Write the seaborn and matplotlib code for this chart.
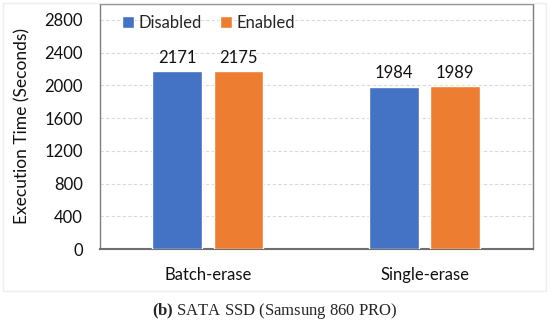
import matplotlib
matplotlib.use("Agg")
import matplotlib.pyplot as plt
import seaborn as sns
import pandas as pd
from matplotlib.patches import Rectangle

categories = ["Batch-erase", "Single-erase"]
series_names = ["Disabled", "Enabled"]
disabled = [2171, 1984]
enabled = [2175, 1989]
yticks = [0, 400, 800, 1200, 1600, 2000, 2400, 2800]
colors = ["#4472C4", "#ED7D31"]

df = pd.DataFrame({
    "Category": categories * 2,
    "Mode": [series_names[0]] * 2 + [series_names[1]] * 2,
    "Time": disabled + enabled,
})

sns.set_style("white")
plt.rcParams["font.family"] = ["Lato", "DejaVu Sans"]
plt.rcParams["mathtext.fontset"] = "custom"
plt.rcParams["mathtext.bf"] = "Liberation Serif:bold"
plt.rcParams["mathtext.rm"] = "Liberation Serif"

fig = plt.figure(figsize=(5.5, 3.23), dpi=100)
ax = fig.add_axes([0.181, 0.229, 0.788, 0.760])

# faint outer frame
fig.patches.append(Rectangle((3 / 550, 1 - 291 / 323), 543 / 550, 288 / 323,
                             transform=fig.transFigure, fill=False,
                             edgecolor="#eeeeee", linewidth=1.0, zorder=0))

sns.barplot(data=df, x="Category", y="Time", hue="Mode", palette=colors,
            width=0.567, gap=0.19, ax=ax, saturation=1, zorder=3)

for cont in ax.containers:
    ax.bar_label(cont, fmt="%d", padding=4, fontsize=12, color="#111111")

ax.set_ylim(0, 3000)
ax.set_xlim(-0.5, 1.5)
ax.set_yticks(yticks)
ax.set_yticklabels([str(t) for t in yticks])
ax.tick_params(axis="y", length=0, pad=12, labelsize=12, labelcolor="#111111")
ax.tick_params(axis="x", length=0, pad=13, labelsize=12, labelcolor="#111111")
ax.set_xlabel("")
ax.set_ylabel("Execution Time (Seconds)", fontsize=12.5, color="#111111")
ax.yaxis.set_label_coords(-0.16, 0.5)

ax.grid(axis="y", color="#d9d9d9", linestyle=(0, (3, 2)), linewidth=0.8, zorder=0)
ax.set_axisbelow(True)
for s in ["top", "right", "left"]:
    ax.spines[s].set_color("#7f7f7f")
    ax.spines[s].set_linewidth(1.0)
ax.spines["bottom"].set_color("#6f6f6f")
ax.spines["bottom"].set_linewidth(1.5)

leg = ax.legend(ncol=2, frameon=False, loc="upper left",
                bbox_to_anchor=(0.017, 1.015), handlelength=0.7, handleheight=0.7,
                handletextpad=0.3, columnspacing=1.1, fontsize=12)

fig.text(0.5, 1 - 311 / 323, r"$\mathbf{(b)}$ SATA SSD (Samsung 860 PRO)",
         ha="center", va="center", fontsize=12, family="Liberation Serif")

fig.savefig("out.png", dpi=100)
